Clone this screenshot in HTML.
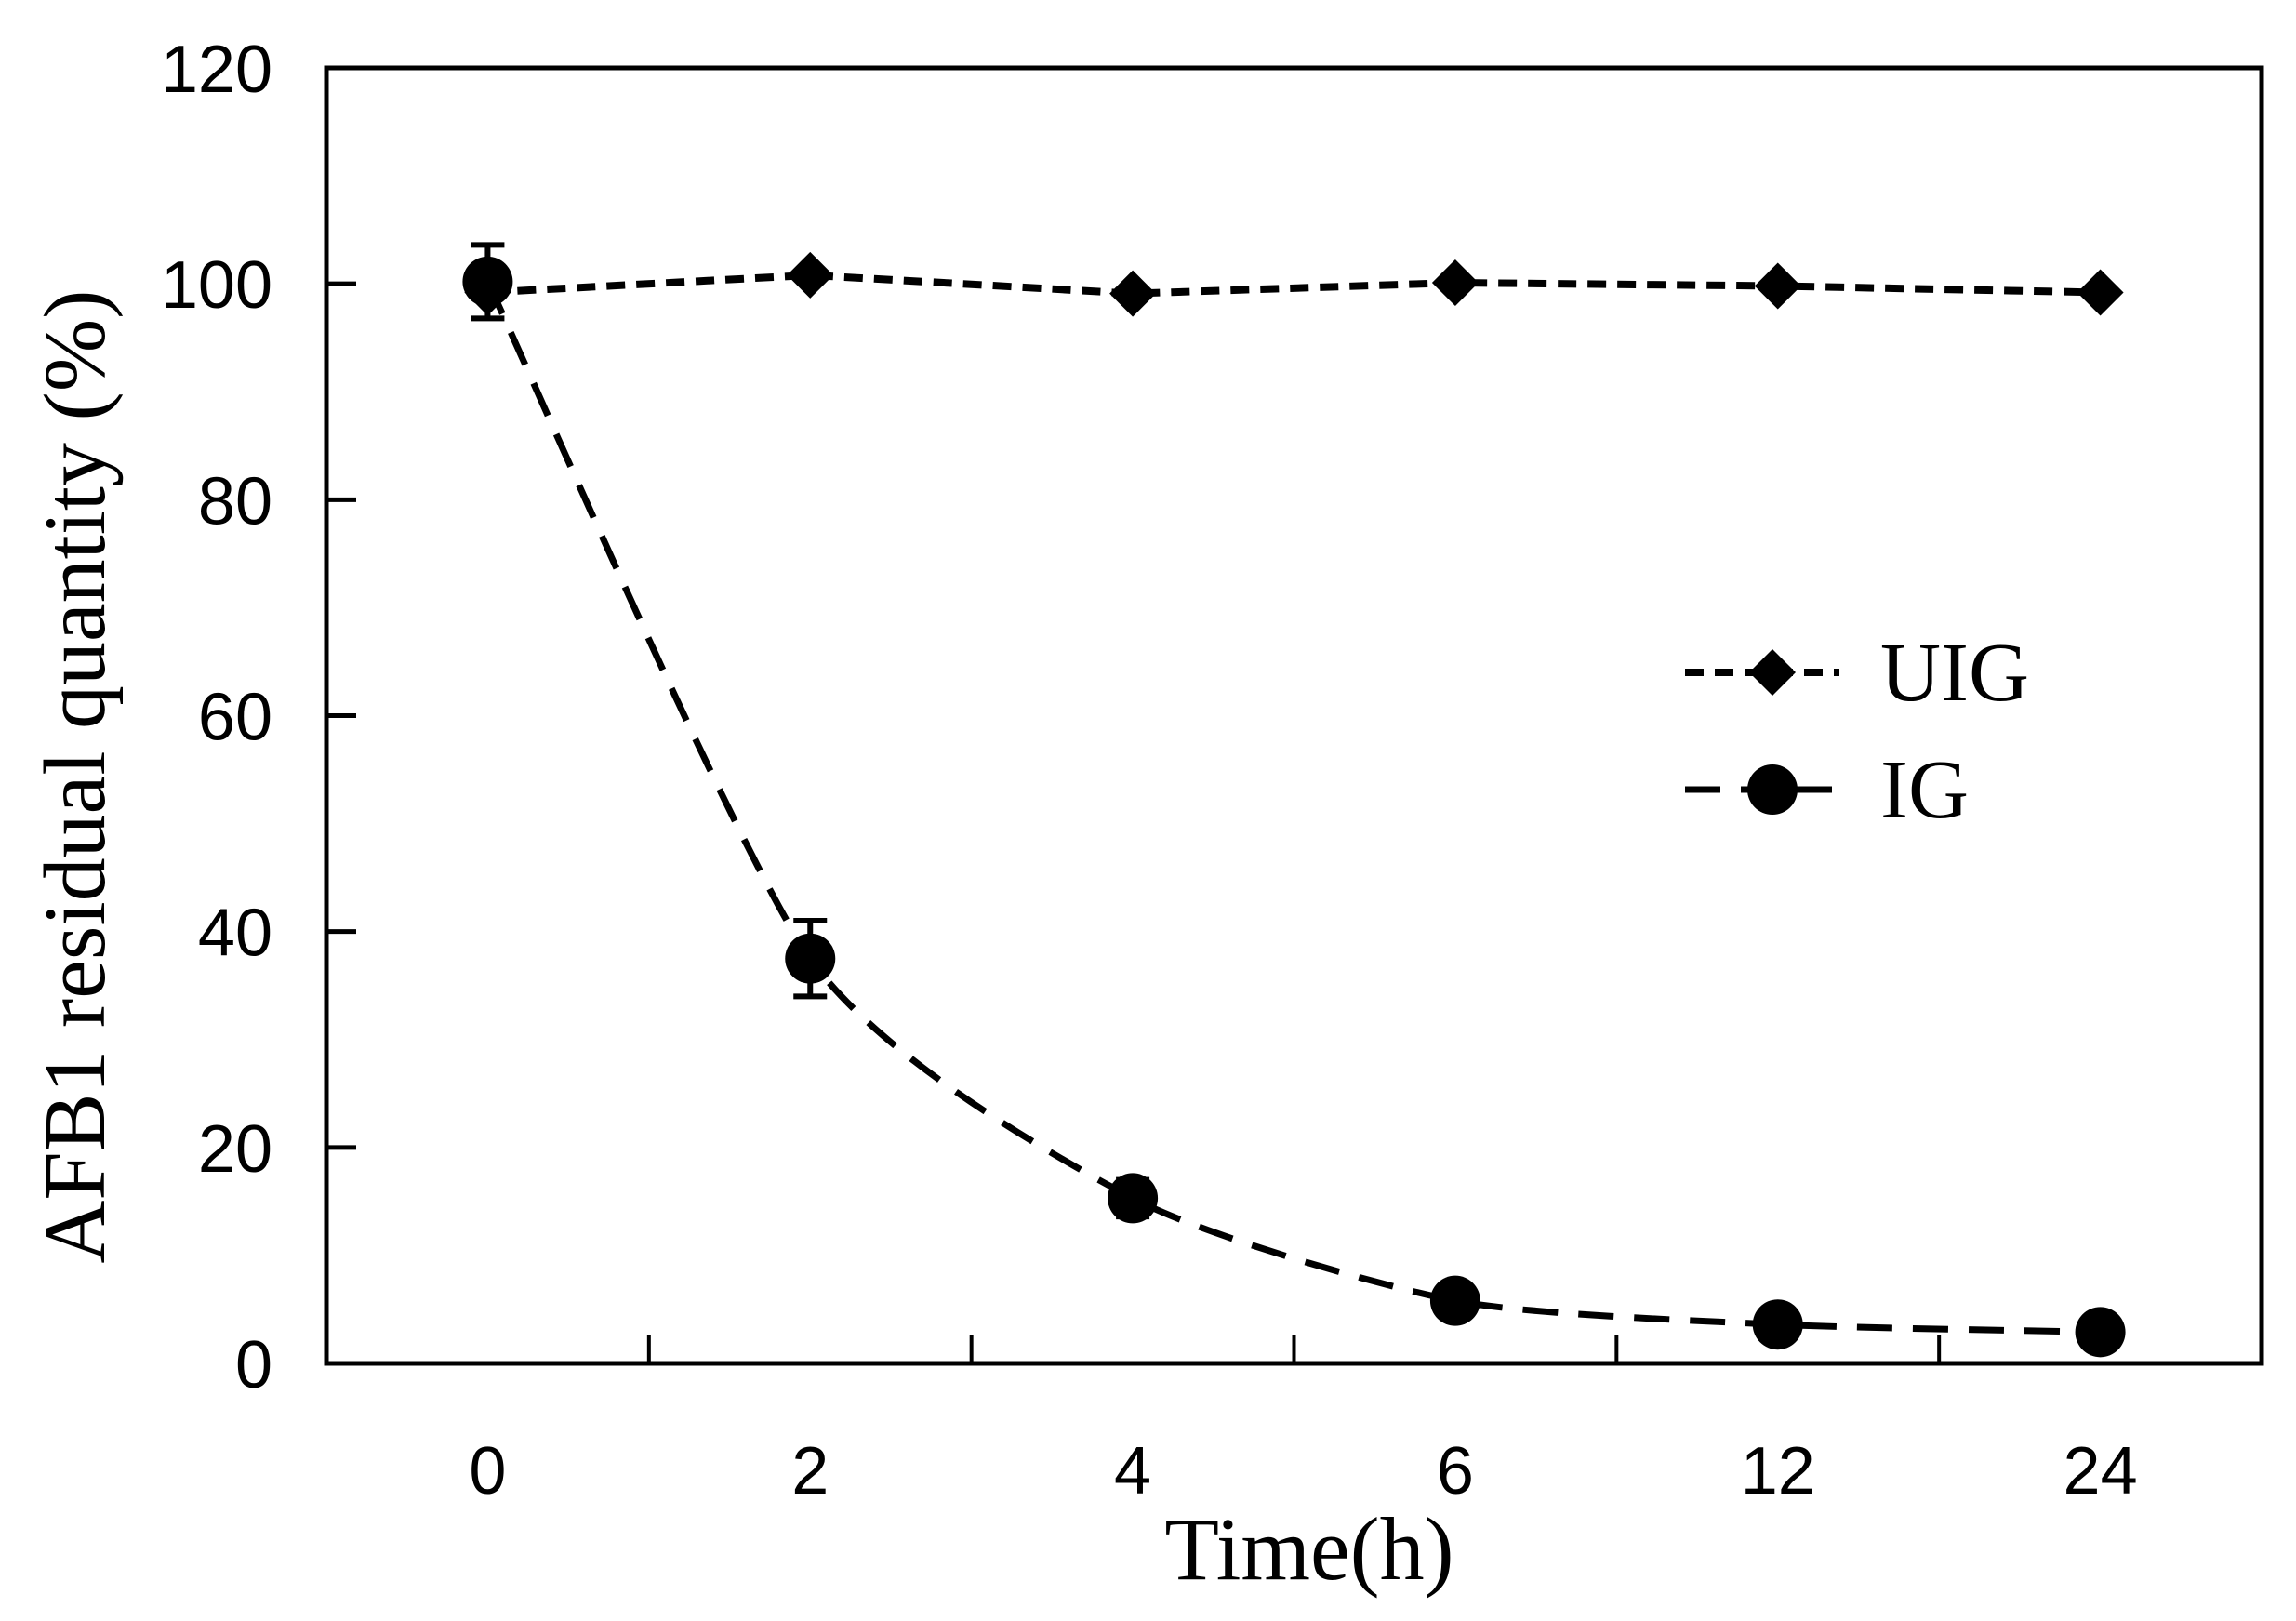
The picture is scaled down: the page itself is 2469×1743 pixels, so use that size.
<!DOCTYPE html>
<html><head><meta charset="utf-8"><style>
html,body{margin:0;padding:0;background:#fff;}
svg{display:block;}
</style></head><body>
<svg id="chart" width="2469" height="1743" viewBox="0 0 2469 1743" xmlns="http://www.w3.org/2000/svg">
<g id="axes"></g>
<g id="series"></g>
<g id="legend"></g>
</svg>
<script>
const categories = ["0","2","4","6","12","24"];
const uigValues = [99.2, 100.8, 99.1, 100.1, 99.8, 99.2];
const igValues = [100.2, 37.5, 15.3, 5.8, 3.6, 2.9];
const igErrors = [3.4, 3.5, 1.7, 0.8, 0.6, 0.5];
const yTicks = [0, 20, 40, 60, 80, 100, 120];

const NS = "http://www.w3.org/2000/svg";
const L = 351, R = 2432, T = 73, B = 1466;
const yMax = 120;
function xPos(i){ return L + (i + 0.5) * (R - L) / categories.length; }
function yPos(v){ return B - v / yMax * (B - T); }
function mk(tag, attrs, parent){ const e = document.createElementNS(NS, tag); for (const k in attrs) e.setAttribute(k, attrs[k]); parent.appendChild(e); return e; }

const axes = document.getElementById('axes');
const frame = mk('rect', {x:L, y:T, width:R-L, height:B-T, fill:'none', stroke:'#000', 'stroke-width':5}, axes);


yTicks.forEach(v => {
  const y = yPos(v);
  if (v > 0 && v < yMax) {
    const t = mk('line', {x1:L, x2:L+32, y1:y, y2:y, stroke:'#000', 'stroke-width':5}, axes);
    
    
  }
  const lb = mk('text', {x:293, y:y+26, 'text-anchor':'end', 'font-family':'Liberation Sans, sans-serif', 'font-size':72}, axes);
  lb.textContent = v;
  
  
});
for (let i = 1; i < categories.length; i++) {
  const x = L + i * (R - L) / categories.length;
  const t = mk('line', {x1:x, x2:x, y1:B, y2:B-30, stroke:'#000', 'stroke-width':4}, axes);
  
  
}
categories.forEach((c, i) => {
  const lb = mk('text', {x:xPos(i), y:1606, 'text-anchor':'middle', 'font-family':'Liberation Sans, sans-serif', 'font-size':72}, axes);
  lb.textContent = c;
  
  
});
const xt = mk('text', {x:1408, y:1698, 'text-anchor':'middle', 'font-family':'Liberation Serif, serif', 'font-size':96}, axes);
xt.textContent = 'Time(h)';


const yt = mk('text', {x:0, y:0, 'text-anchor':'middle', 'font-family':'Liberation Serif, serif', 'font-size':94, transform:'translate(112,835) rotate(-90)'}, axes);
yt.textContent = 'AFB1 residual quantity (%)';



const series = document.getElementById('series');
let d = uigValues.map((v,i)=>(i?'L':'M')+xPos(i)+','+yPos(v)).join(' ');
const ul = mk('path', {d:d, fill:'none', stroke:'#000', 'stroke-width':8, 'stroke-dasharray':'20 12'}, series);


const pts = igValues.map((v,i)=>[xPos(i), yPos(v)]);
let p = 'M' + pts[0][0] + ',' + pts[0][1];
for (let i = 0; i < pts.length - 1; i++) {
  const p0 = pts[Math.max(0,i-1)], p1 = pts[i], p2 = pts[i+1], p3 = pts[Math.min(pts.length-1,i+2)];
  const c1 = [p1[0] + (p2[0]-p0[0])/9, p1[1] + (p2[1]-p0[1])/9];
  const c2 = [p2[0] - (p3[0]-p1[0])/9, p2[1] - (p3[1]-p1[1])/9];
  p += ' C' + c1 + ' ' + c2 + ' ' + p2;
}
const il = mk('path', {d:p, fill:'none', stroke:'#000', 'stroke-width':7, 'stroke-dasharray':'38 22'}, series);


igValues.forEach((v,i)=>{
  const x = xPos(i), e = igErrors[i];
  const g = mk('path', {d:`M${x},${yPos(v+e)} L${x},${yPos(v-e)} M${x-18},${yPos(v+e)} L${x+18},${yPos(v+e)} M${x-18},${yPos(v-e)} L${x+18},${yPos(v-e)}`, stroke:'#000', 'stroke-width':6, fill:'none'}, series);
  
  
});
uigValues.forEach((v,i)=>{
  const x = xPos(i), y = yPos(v), s = 25;
  const m = mk('polygon', {points:`${x},${y-s} ${x+s},${y} ${x},${y+s} ${x-s},${y}`, fill:'#000'}, series);
  
  
});
igValues.forEach((v,i)=>{
  const m = mk('circle', {cx:xPos(i), cy:yPos(v), r:27, fill:'#000'}, series);
  
  
});

const legend = document.getElementById('legend');
const l1 = mk('line', {x1:1812, x2:1978, y1:723, y2:723, stroke:'#000', 'stroke-width':8, 'stroke-dasharray':'20 12'}, legend);


const d1 = mk('polygon', {points:'1906,698 1931,723 1906,748 1881,723', fill:'#000'}, legend);


const t1 = mk('text', {x:2022, y:753, 'font-family':'Liberation Serif, serif', 'font-size':90}, legend);
t1.textContent = 'UIG';


const l2 = mk('line', {x1:1812, x2:1978, y1:849, y2:849, stroke:'#000', 'stroke-width':7, 'stroke-dasharray':'38 22'}, legend);


const c2 = mk('circle', {cx:1906, cy:849, r:27, fill:'#000'}, legend);


const t2 = mk('text', {x:2022, y:879, 'font-family':'Liberation Serif, serif', 'font-size':90}, legend);
t2.textContent = 'IG';


</script>
</body></html>
